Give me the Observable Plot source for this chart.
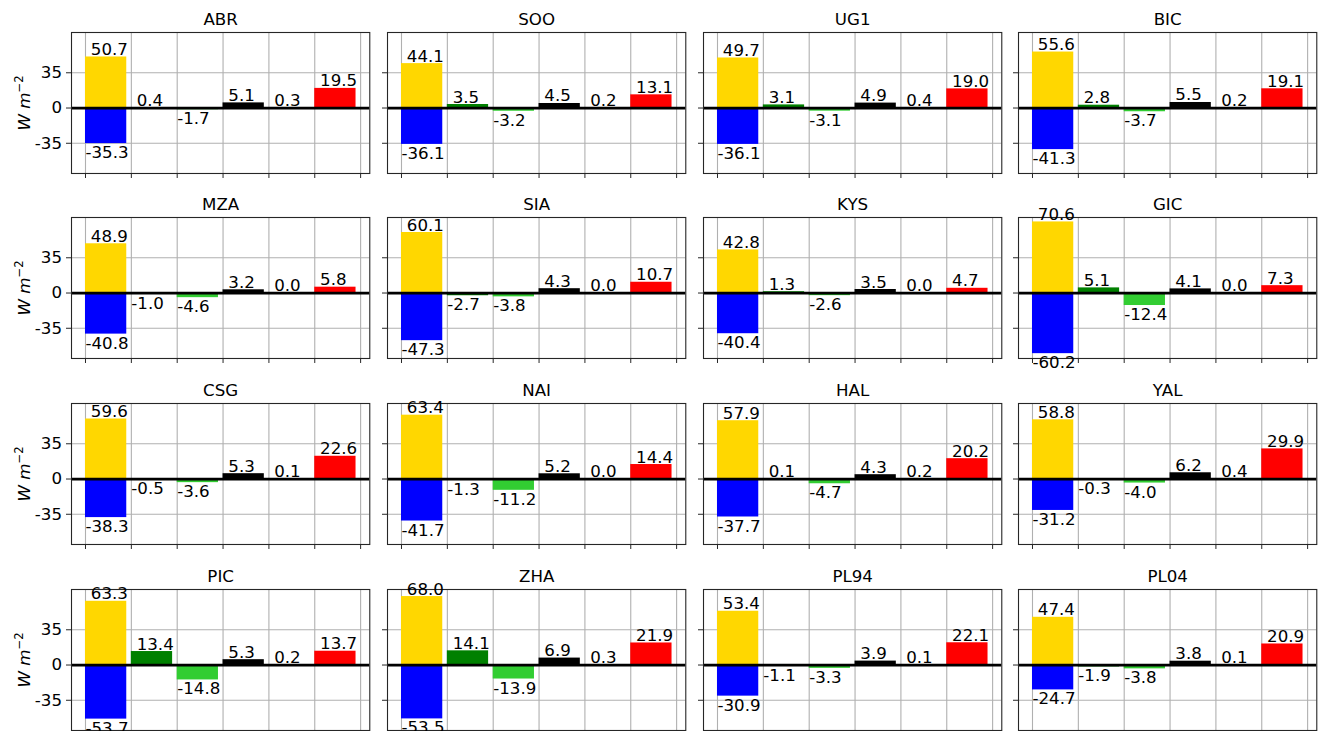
<!DOCTYPE html>
<html>
<head>
<meta charset="utf-8">
<script src="https://cdn.jsdelivr.net/npm/d3@7"></script>
<script src="https://cdn.jsdelivr.net/npm/@observablehq/plot@0.6"></script>
<style>
  html, body { margin: 0; padding: 0; background: #fff; overflow: hidden; }
  #panels { position: relative; width: 1319px; height: 731px; }
  #panels svg { position: absolute; }
</style>
</head>
<body>
<div id="panels"></div>
<script>
// Station panels, read left to right, top to bottom
const stations = ["ABR", "SOO", "UG1", "BIC", "MZA", "SIA", "KYS", "GIC",
                  "CSG", "NAI", "HAL", "YAL", "PIC", "ZHA", "PL94", "PL04"];

// Flux components per station (W m-2)
const goldValues   = [50.7, 44.1, 49.7, 55.6, 48.9, 60.1, 42.8, 70.6, 59.6, 63.4, 57.9, 58.8, 63.3, 68.0, 53.4, 47.4];
const blueValues   = [-35.3, -36.1, -36.1, -41.3, -40.8, -47.3, -40.4, -60.2, -38.3, -41.7, -37.7, -31.2, -53.7, -53.5, -30.9, -24.7];
const greenValues  = [0.4, 3.5, 3.1, 2.8, -1.0, -2.7, 1.3, 5.1, -0.5, -1.3, 0.1, -0.3, 13.4, 14.1, -1.1, -1.9];
const limeValues   = [-1.7, -3.2, -3.1, -3.7, -4.6, -3.8, -2.6, -12.4, -3.6, -11.2, -4.7, -4.0, -14.8, -13.9, -3.3, -3.8];
const blackValues  = [5.1, 4.5, 4.9, 5.5, 3.2, 4.3, 3.5, 4.1, 5.3, 5.2, 4.3, 6.2, 5.3, 6.9, 3.9, 3.8];
const violetValues = [0.3, 0.2, 0.4, 0.2, 0.0, 0.0, 0.0, 0.0, 0.1, 0.0, 0.2, 0.4, 0.2, 0.3, 0.1, 0.1];
const redValues    = [19.5, 13.1, 19.0, 19.1, 5.8, 10.7, 4.7, 7.3, 22.6, 14.4, 20.2, 29.9, 13.7, 21.9, 22.1, 20.9];

// Axis ticks and labels
const xTicks = [0, 1, 2, 3, 4, 5, 6];
const yTicks = [-35, 0, 35];
const yLabelBase = "W m";
const yLabelExp = "\u22122";

// Which bar slot and colour each component uses
const series = [
  {values: goldValues,   slot: 0, color: "gold"},
  {values: blueValues,   slot: 0, color: "blue"},
  {values: greenValues,  slot: 1, color: "green"},
  {values: limeValues,   slot: 2, color: "limegreen"},
  {values: blackValues,  slot: 3, color: "black"},
  {values: violetValues, slot: 4, color: "darkviolet"},
  {values: redValues,    slot: 5, color: "red"}
];

// Grid layout of the 4 x 4 panels
const nCols = 4;
const panelW = 298.3, panelH = 141;
const colStep = 315.8, rowStep = 185.6;
const frameLeft0 = 71, frameTop0 = 31.8;
const mL = 71, mT = 32, mR = 8, mB = 16;
const barWidth = 0.9;
const fontSize = "16.67px";

const fmt = d => (d.value >= 0 ? "\u00a0" : "") + d.value.toFixed(1);

const container = document.getElementById("panels");

stations.forEach((name, i) => {
  const col = i % nCols, row = Math.floor(i / nCols);
  const rows = series.map(s => ({slot: s.slot, value: s.values[i], color: s.color}));

  const chart = Plot.plot({
    width: mL + panelW + mR,
    height: mT + panelH + mB,
    marginLeft: mL, marginRight: mR, marginTop: mT, marginBottom: mB,
    x: {type: "linear", domain: [-0.305, 6.2]},
    y: {domain: [-65, 75]},
    color: {type: "identity"},
    style: {
      background: "transparent",
      overflow: "visible",
      maxWidth: "none",
      fontFamily: "'DejaVu Sans', sans-serif",
      fontSize: fontSize,
      color: "black"
    },
    marks: [
      Plot.gridX(xTicks, {stroke: "#b0b0b0", strokeOpacity: 1, strokeWidth: 1.1}),
      Plot.gridY(yTicks, {stroke: "#b0b0b0", strokeOpacity: 1, strokeWidth: 1.1}),
      Plot.rectY(rows, {
        x1: "slot",
        x2: d => d.slot + barWidth,
        y1: 0,
        y2: "value",
        fill: "color"
      }),
      Plot.ruleY([0], {stroke: "black", strokeWidth: 2.8}),
      Plot.frame({stroke: "#262626", strokeWidth: 1.1}),
      Plot.axisX(xTicks, {tickSize: 5, tickFormat: () => "", label: null, stroke: "#262626"}),
      Plot.axisY(yTicks, {
        tickSize: 5,
        tickPadding: 4.5,
        tickFormat: col === 0 ? d => String(d) : () => "",
        label: null,
        stroke: "#262626"
      }),
      Plot.text(rows.filter(d => d.value >= 0), {
        x: "slot", y: "value", text: fmt,
        textAnchor: "start", lineAnchor: "bottom", dy: -2, fill: "black"
      }),
      Plot.text(rows.filter(d => d.value < 0), {
        x: "slot", y: "value", text: fmt,
        textAnchor: "start", lineAnchor: "top", dy: 2.7, fill: "black"
      }),
      Plot.text([name], {frameAnchor: "top", lineAnchor: "bottom", dy: -7, fill: "black"}),
      col === 0
        ? Plot.text([yLabelBase + yLabelExp], {
            frameAnchor: "left", rotate: -90, dx: -41.5,
            lineAnchor: "bottom", textAnchor: "middle", fill: "black"
          })
        : null
    ]
  });

  // Set the unit label as italic symbols with a raised exponent
  const ns = "http://www.w3.org/2000/svg";
  for (const t of chart.querySelectorAll("text")) {
    if (t.textContent !== yLabelBase + yLabelExp) continue;
    t.textContent = "";
    const base = document.createElementNS(ns, "tspan");
    base.setAttribute("font-style", "italic");
    base.textContent = yLabelBase;
    const exp = document.createElementNS(ns, "tspan");
    exp.setAttribute("font-size", "11.7px");
    exp.setAttribute("dy", "-7.5");
    exp.textContent = yLabelExp;
    t.append(base, exp);
  }

  chart.style.left = (col * colStep + frameLeft0 - mL) + "px";
  chart.style.top = (row * rowStep + frameTop0 - mT) + "px";
  container.appendChild(chart);
});
</script>
</body>
</html>
